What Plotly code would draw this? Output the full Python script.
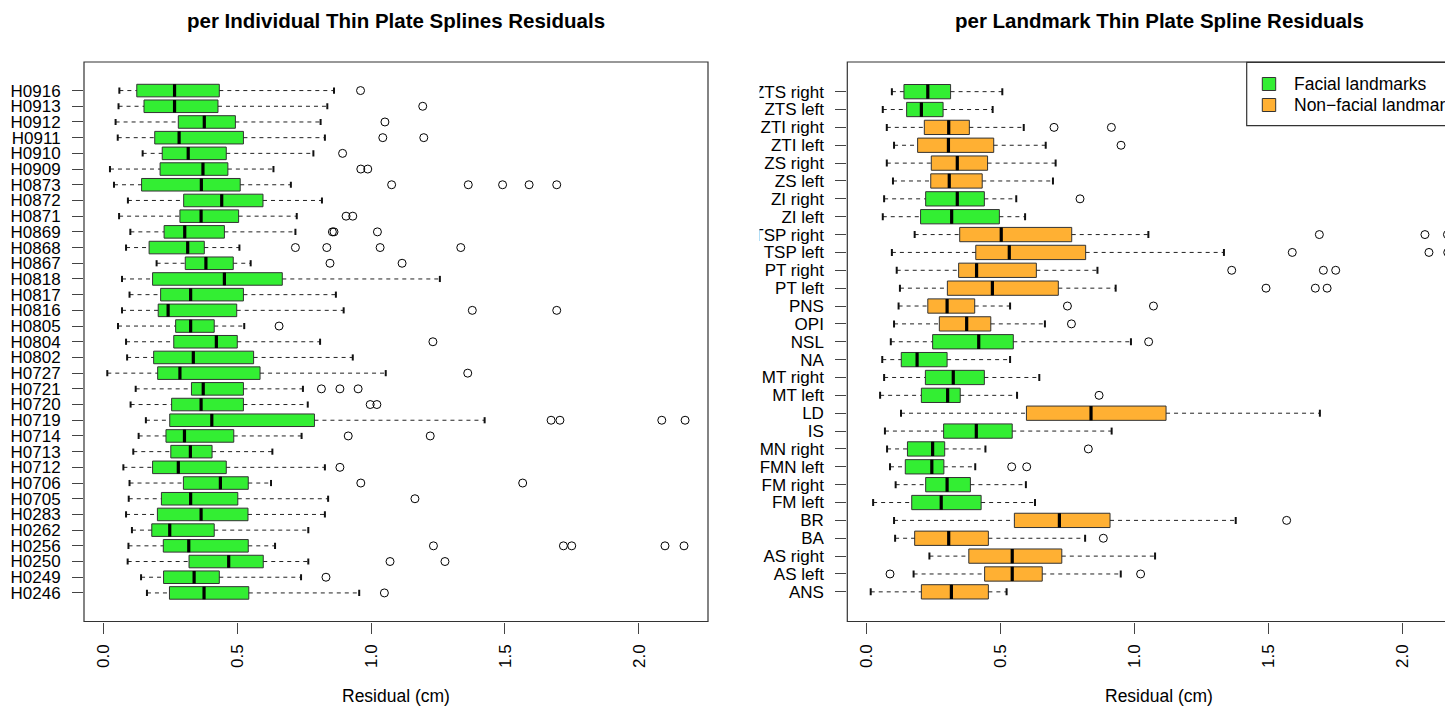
import plotly.graph_objects as go

FONT = "Liberation Sans, Arial, Helvetica, sans-serif"
GREEN = "#33EE33"
ORANGE = "#FFB033"
SCREEN_W, SCREEN_H = 1453, 707
OFF = 8  # page body margin of the html page
W, H = SCREEN_W - OFF, SCREEN_H - OFF

# ---------------- per Individual data (top to bottom as in picture) ----------------
ind_labels = ["H0916", "H0913", "H0912", "H0911", "H0910", "H0909", "H0873", "H0872",
              "H0871", "H0869", "H0868", "H0867", "H0818", "H0817", "H0816", "H0805",
              "H0804", "H0802", "H0727", "H0721", "H0720", "H0719", "H0714", "H0713",
              "H0712", "H0706", "H0705", "H0283", "H0262", "H0256", "H0250", "H0249", "H0246"]
ind_lower = [0.061, 0.058, 0.047, 0.055, 0.148, 0.026, 0.041, 0.093, 0.060, 0.102, 0.086,
             0.200, 0.071, 0.099, 0.071, 0.056, 0.086, 0.090, 0.016, 0.122, 0.103, 0.160,
             0.133, 0.113, 0.076, 0.099, 0.096, 0.086, 0.108, 0.095, 0.092, 0.142, 0.164]
ind_q1 = [0.126, 0.153, 0.281, 0.193, 0.221, 0.213, 0.144, 0.301, 0.287, 0.228, 0.172,
          0.307, 0.185, 0.215, 0.206, 0.271, 0.264, 0.189, 0.204, 0.330, 0.256, 0.249,
          0.235, 0.253, 0.185, 0.300, 0.218, 0.203, 0.182, 0.225, 0.321, 0.226, 0.248]
ind_median = [0.267, 0.267, 0.378, 0.284, 0.318, 0.373, 0.367, 0.443, 0.366, 0.305, 0.316,
              0.384, 0.453, 0.327, 0.243, 0.327, 0.423, 0.337, 0.287, 0.374, 0.366, 0.406,
              0.304, 0.326, 0.281, 0.438, 0.327, 0.366, 0.249, 0.320, 0.469, 0.340, 0.377]
ind_q3 = [0.434, 0.429, 0.494, 0.524, 0.460, 0.466, 0.512, 0.597, 0.506, 0.453, 0.378,
          0.486, 0.669, 0.524, 0.499, 0.415, 0.501, 0.562, 0.586, 0.524, 0.524, 0.789,
          0.488, 0.407, 0.460, 0.542, 0.503, 0.541, 0.415, 0.542, 0.598, 0.434, 0.544]
ind_upper = [0.862, 0.837, 0.812, 0.828, 0.785, 0.636, 0.701, 0.817, 0.723, 0.718, 0.509,
             0.551, 1.257, 0.869, 0.898, 0.527, 0.810, 0.932, 1.055, 0.746, 0.764, 1.424,
             0.741, 0.632, 0.828, 0.627, 0.840, 0.828, 0.766, 0.642, 0.766, 0.739, 0.956]
ind_out_labels = ["H0916", "H0913", "H0912", "H0911", "H0911", "H0910", "H0909", "H0909",
                  "H0873", "H0873", "H0873", "H0873", "H0873", "H0871", "H0871",
                  "H0869", "H0869", "H0869", "H0868", "H0868", "H0868", "H0868",
                  "H0867", "H0867", "H0816", "H0816", "H0805", "H0804", "H0727",
                  "H0721", "H0721", "H0721", "H0720", "H0720",
                  "H0719", "H0719", "H0719", "H0719", "H0714", "H0714", "H0712",
                  "H0706", "H0706", "H0705", "H0256", "H0256", "H0256", "H0256", "H0256",
                  "H0250", "H0250", "H0249", "H0246"]
ind_out_values = [0.961, 1.193, 1.052, 1.044, 1.197, 0.894, 0.962, 0.988,
                  1.077, 1.363, 1.491, 1.590, 1.693, 0.907, 0.932,
                  0.856, 0.862, 1.024, 0.718, 0.835, 1.034, 1.335,
                  0.847, 1.116, 1.378, 1.693, 0.657, 1.231, 1.361,
                  0.815, 0.884, 0.952, 0.997, 1.022,
                  1.672, 1.705, 2.085, 2.172, 0.915, 1.221, 0.884,
                  0.962, 1.566, 1.164, 1.233, 1.718, 1.749, 2.097, 2.168,
                  1.071, 1.276, 0.832, 1.050]

# ---------------- per Landmark data (top to bottom as in picture) ----------------
lm_labels = ["ZTS right", "ZTS left", "ZTI right", "ZTI left", "ZS right", "ZS left",
             "ZI right", "ZI left", "TSP right", "TSP left", "PT right", "PT left", "PNS",
             "OPI", "NSL", "NA", "MT right", "MT left", "LD", "IS", "MN right", "FMN left",
             "FM right", "FM left", "BR", "BA", "AS right", "AS left", "ANS"]
lm_group = ["F", "F", "N", "N", "N", "N", "F", "F", "N", "N", "N", "N", "N", "N", "F",
            "F", "F", "F", "N", "F", "F", "F", "F", "F", "N", "N", "N", "N", "N"]
lm_lower = [0.094, 0.060, 0.075, 0.102, 0.075, 0.098, 0.065, 0.060, 0.179, 0.094, 0.112,
            0.124, 0.119, 0.102, 0.090, 0.058, 0.065, 0.050, 0.128, 0.068, 0.076, 0.087,
            0.108, 0.024, 0.102, 0.106, 0.234, 0.175, 0.015]
lm_q1 = [0.139, 0.149, 0.215, 0.190, 0.241, 0.239, 0.220, 0.201, 0.347, 0.407, 0.343,
         0.301, 0.228, 0.271, 0.246, 0.129, 0.219, 0.204, 0.596, 0.287, 0.152, 0.144,
         0.220, 0.168, 0.551, 0.179, 0.381, 0.440, 0.204]
lm_median = [0.228, 0.204, 0.306, 0.305, 0.338, 0.308, 0.338, 0.317, 0.502, 0.532, 0.410,
             0.469, 0.300, 0.373, 0.418, 0.188, 0.323, 0.302, 0.837, 0.409, 0.246, 0.243,
             0.300, 0.278, 0.719, 0.306, 0.543, 0.543, 0.316]
lm_q3 = [0.313, 0.285, 0.383, 0.474, 0.451, 0.431, 0.439, 0.495, 0.765, 0.817, 0.633,
         0.715, 0.403, 0.463, 0.547, 0.300, 0.439, 0.349, 1.117, 0.543, 0.291, 0.288,
         0.387, 0.427, 0.908, 0.454, 0.728, 0.655, 0.454]
lm_upper = [0.506, 0.470, 0.586, 0.668, 0.705, 0.695, 0.558, 0.591, 1.051, 1.333, 0.861,
            0.929, 0.535, 0.665, 0.986, 0.535, 0.644, 0.561, 1.691, 0.914, 0.443, 0.405,
            0.594, 0.628, 1.377, 0.815, 1.076, 0.948, 0.522]
lm_out_labels = ["ZTI right", "ZTI right", "ZTI left", "ZI right",
                 "TSP right", "TSP right", "TSP right", "TSP left", "TSP left", "TSP left",
                 "PT right", "PT right", "PT right", "PT left", "PT left", "PT left",
                 "PNS", "PNS", "OPI", "NSL", "MT left", "MN right", "FMN left", "FMN left",
                 "BR", "BA", "AS left", "AS left"]
lm_out_values = [0.699, 0.913, 0.949, 0.796,
                 1.689, 2.083, 2.167, 1.588, 2.098, 2.168,
                 1.362, 1.704, 1.750, 1.490, 1.674, 1.718,
                 0.749, 1.070, 0.764, 1.052, 0.867, 0.827, 0.541, 0.597,
                 1.567, 0.883, 0.087, 1.022]

legend_labels = ["Facial landmarks", "Non\u2212facial landmarks"]
legend_colors = [GREEN, ORANGE]

x_tick_vals = [0.0, 0.5, 1.0, 1.5, 2.0]
x_tick_text = ["0.0", "0.5", "1.0", "1.5", "2.0"]

titles = ["per Individual Thin Plate Splines Residuals", "per Landmark Thin Plate Spline Residuals"]
x_title = "Residual (cm)"


# ---------------- layout geometry (screen pixels -> paper) ----------------
def px(x):
    return (x - OFF) / W


def py(y):
    return 1 - (y - OFF) / H


Y_DOM = [py(621.5), py(62)]
L_DOM = [px(84), px(708)]
R_DOM = [px(847.3), 1.0]

fig = go.Figure()


def add_panel(labels, groups, lower, q1, med, q3, upper, out_lab, out_val, xa, ya,
              med_size, cap_size):
    # dashed whiskers
    wx, wy = [], []
    for i, lab in enumerate(labels):
        wx += [lower[i], q1[i], None, q3[i], upper[i], None]
        wy += [lab, lab, None, lab, lab, None]
    fig.add_trace(go.Scatter(x=wx, y=wy, mode="lines", xaxis=xa, yaxis=ya,
                             line=dict(color="#222222", width=1, dash="4px,4px"),
                             showlegend=False, hoverinfo="skip"))
    # boxes
    for g, color in (("F", GREEN), ("N", ORANGE)):
        idx = [i for i in range(len(labels)) if groups[i] == g]
        if not idx:
            continue
        fig.add_trace(go.Box(
            orientation="h",
            y=[labels[i] for i in idx],
            q1=[q1[i] for i in idx], median=[med[i] for i in idx], q3=[q3[i] for i in idx],
            lowerfence=[q1[i] for i in idx], upperfence=[q3[i] for i in idx],
            width=0.8, whiskerwidth=0, boxpoints=False,
            fillcolor=color, line=dict(color="#333333", width=1),
            xaxis=xa, yaxis=ya, showlegend=False, hoverinfo="skip"))
    # whisker caps
    fig.add_trace(go.Scatter(x=lower + upper, y=labels + labels, mode="markers",
                             xaxis=xa, yaxis=ya,
                             marker=dict(symbol="line-ns", size=cap_size,
                                         line=dict(color="#111111", width=2)),
                             showlegend=False, hoverinfo="skip"))
    # thick medians
    fig.add_trace(go.Scatter(x=med, y=labels, mode="markers", xaxis=xa, yaxis=ya,
                             marker=dict(symbol="line-ns", size=med_size,
                                         line=dict(color="black", width=3.2)),
                             showlegend=False, hoverinfo="skip"))
    # outliers
    fig.add_trace(go.Scatter(x=out_val, y=out_lab, mode="markers", xaxis=xa, yaxis=ya,
                             marker=dict(symbol="circle-open", size=8,
                                         color="black", line=dict(color="black", width=1)),
                             showlegend=False, hoverinfo="skip"))


add_panel(ind_labels, ["F"] * len(ind_labels), ind_lower, ind_q1, ind_median, ind_q3,
          ind_upper, ind_out_labels, ind_out_values, "x", "y", 9.0, 4.4)
add_panel(lm_labels, lm_group, lm_lower, lm_q1, lm_median, lm_q3, lm_upper,
          lm_out_labels, lm_out_values, "x2", "y2", 10.2, 5.0)

xcommon = dict(tickmode="array", tickvals=x_tick_vals, ticktext=x_tick_text,
               tickangle=-90, ticks="outside", ticklen=11, tickwidth=1, tickcolor="#444444",
               showgrid=False, zeroline=False, showline=False, automargin=False,
               tickfont=dict(family=FONT, size=17, color="black"), ticklabelstandoff=4)
ycommon = dict(type="category", categoryorder="array", ticks="outside", ticklen=11,
               tickwidth=1, tickcolor="#444444", showgrid=False, zeroline=False,
               showline=False, automargin=False, ticklabelstandoff=8, tickmode="array",
               tickfont=dict(family=FONT, size=17, color="black"))

n1, n2 = len(ind_labels), len(lm_labels)
fig.update_layout(
    width=W, height=H, margin=dict(l=0, r=0, t=0, b=0),
    paper_bgcolor="white", plot_bgcolor="white", boxmode="overlay",
    font=dict(family=FONT, size=16, color="black"),
    xaxis=dict(domain=L_DOM, range=[-0.0709, 2.2575], anchor="y", **xcommon),
    yaxis=dict(domain=Y_DOM, anchor="x", categoryarray=ind_labels[::-1],
               tickvals=ind_labels, ticktext=ind_labels,
               range=[-0.5 - 0.04 * n1, n1 - 0.5 + 0.04 * n1], **ycommon),
    xaxis2=dict(domain=R_DOM, range=[-0.0724, 2.1877], anchor="y2", **xcommon),
    yaxis2=dict(domain=Y_DOM, anchor="x2", categoryarray=lm_labels[::-1],
                tickvals=lm_labels, ticktext=lm_labels,
                range=[-0.5 - 0.04 * n2, n2 - 0.5 + 0.04 * n2], **ycommon),
)

shapes = [
    # plot frames
    dict(type="rect", xref="paper", yref="paper", x0=L_DOM[0], x1=L_DOM[1],
         y0=Y_DOM[0], y1=Y_DOM[1], line=dict(color="#333333", width=1.2), layer="above"),
    dict(type="rect", xref="paper", yref="paper", x0=R_DOM[0], x1=1.02,
         y0=Y_DOM[0], y1=Y_DOM[1], line=dict(color="#333333", width=1.2), layer="above"),
    # figure-region clip of the right panel's long labels
    dict(type="rect", xref="paper", yref="paper", x0=px(727), x1=px(759.5),
         y0=Y_DOM[0], y1=Y_DOM[1], line=dict(width=0), fillcolor="white", layer="above"),
    # legend frame
    dict(type="rect", xref="paper", yref="paper", x0=px(1246.7), x1=1.02,
         y0=py(125.7), y1=py(62.3), line=dict(color="#333333", width=1.2),
         fillcolor="white", layer="above"),
]
annotations = []
for k, (lab, col) in enumerate(zip(legend_labels, legend_colors)):
    cy = 84 + 21 * k
    shapes.append(dict(type="rect", xref="paper", yref="paper", x0=px(1262.3), x1=px(1275.7),
                       y0=py(cy + 6.5), y1=py(cy - 6.5), fillcolor=col,
                       line=dict(color="#333333", width=1), layer="above"))
    annotations.append(dict(xref="paper", yref="paper", x=px(1291.5), y=py(cy), text=lab,
                            showarrow=False, xanchor="left", yanchor="middle",
                            font=dict(family=FONT, size=17.5, color="black")))

for cx, t in zip([396, 1159], titles):
    annotations.append(dict(xref="paper", yref="paper", x=px(cx), y=py(20), text="<b>" + t + "</b>",
                            showarrow=False, xanchor="center", yanchor="middle",
                            font=dict(family=FONT, size=20.5, color="black")))
    annotations.append(dict(xref="paper", yref="paper", x=px(cx), y=py(696), text=x_title,
                            showarrow=False, xanchor="center", yanchor="middle",
                            font=dict(family=FONT, size=17.5, color="black")))

fig.update_layout(shapes=shapes, annotations=annotations)

fig.write_html("out.html")
